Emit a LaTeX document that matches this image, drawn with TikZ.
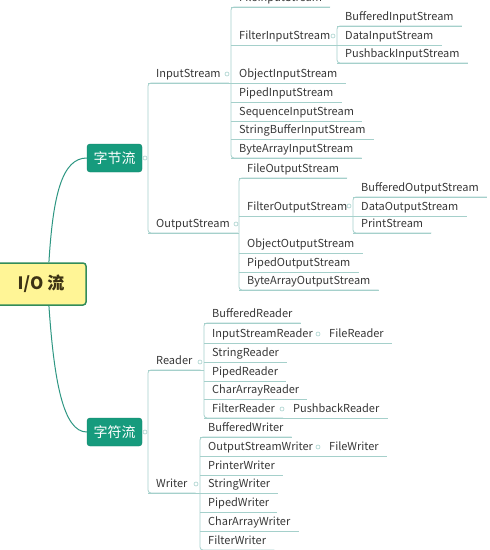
\documentclass[tikz,border=0pt]{standalone}
\usepackage{fontspec}
\setmainfont{Noto Sans CJK SC}
\usetikzlibrary{positioning}

\definecolor{rootfill}{RGB}{255,245,150}
\definecolor{rootedge}{RGB}{50,140,90}
\definecolor{roottext}{RGB}{60,50,20}
\definecolor{topicfill}{RGB}{22,155,125}
\definecolor{topicedge}{RGB}{15,130,105}
\definecolor{stemline}{RGB}{45,150,130}
\definecolor{branchline}{RGB}{165,208,203}
\definecolor{leaftext}{RGB}{55,55,55}

\begin{document}
\begin{tikzpicture}
    [
      x=1pt,y=-1pt,
      root/.style={draw=rootedge,fill=rootfill,line width=1.5pt,rounded corners=3pt,minimum width=90pt,minimum height=42pt,text=roottext,font=\bfseries\fontsize{17}{20}\selectfont},
      topic/.style={draw=topicedge,fill=topicfill,rounded corners=3pt,minimum width=55pt,minimum height=28pt,text=white,font=\fontsize{14}{16}\selectfont},
      leaf/.style={anchor=south west,inner xsep=8pt,inner ysep=2.5pt,text height=8pt,text depth=2.5pt,text=leaftext,font=\fontsize{11}{13}\selectfont},
      branch/.style={draw=branchline,line width=0.8pt},
      trunk/.style={branch,rounded corners=3pt},
      stem/.style={draw=stemline,line width=1pt},
      knob/.style={circle,draw=branchline,fill=white,inner sep=0pt,minimum size=4pt,line width=0.6pt},
    ]

    \useasboundingbox (0,0) rectangle (490,550);

    \node (io) [root] at (41,284) {I/O 流};
    \node (byte) [topic] at (114.5,158) {字节流};
    \node (char) [topic] at (114.5,432) {字符流};

    \draw [stem] (io.70) .. controls (53,195) and (62,158) .. (byte.west);
    \draw [stem] (io.290) .. controls (54,380) and (63,432) .. (char.west);

    \node (in) [leaf] at (148,83) {InputStream};
    \node (out) [leaf] at (148,233) {OutputStream};
    \node (rd) [leaf] at (148,370) {Reader};
    \node (wr) [leaf] at (148,493) {Writer};

    % byte streams
    \foreach \n/\t/\y in {fis/FileInputStream/7, fltis/FilterInputStream/45, ois/ObjectInputStream/83,
      pis/PipedInputStream/102, sis/SequenceInputStream/121, sbis/StringBufferInputStream/139,
      bais/ByteArrayInputStream/158}
      \node (\n) [leaf] at (231,\y) {\t};
    \foreach \n/\t/\y in {bfis/BufferedInputStream/26, dis/DataInputStream/45, pbis/PushbackInputStream/63}
      \node (\n) [leaf] at (337,\y) {\t};
    \foreach \n/\t/\y in {fos/FileOutputStream/178, fltos/FilterOutputStream/216, oos/ObjectOutputStream/253,
      pos/PipedOutputStream/272, baos/ByteArrayOutputStream/290}
      \node (\n) [leaf] at (239,\y) {\t};
    \foreach \n/\t/\y in {bos/BufferedOutputStream/197, dos/DataOutputStream/216, ps/PrintStream/233}
      \node (\n) [leaf] at (353,\y) {\t};

    % char streams
    \foreach \n/\t/\y in {br/BufferedReader/323, isr/InputStreamReader/343, sr/StringReader/362,
      pr/PipedReader/381, car/CharArrayReader/399, fr/FilterReader/418}
      \node (\n) [leaf] at (204,\y) {\t};
    \node (filer) [leaf] at (321,343) {FileReader};
    \node (pbr) [leaf] at (285,418) {PushbackReader};
    \foreach \n/\t/\y in {bw/BufferedWriter/437, osw/OutputStreamWriter/456, pw/PrinterWriter/475,
      sw/StringWriter/493, pdw/PipedWriter/512, caw/CharArrayWriter/531, fw/FilterWriter/550}
      \node (\n) [leaf] at (200,\y) {\t};
    \node (filew) [leaf] at (321,456) {FileWriter};

    \foreach \n in {fis,ois,pis,sis,sbis,bais,bfis,dis,pbis,fos,oos,pos,baos,bos,dos,ps,
      br,sr,pr,car,filer,pbr,bw,pw,sw,pdw,caw,fw,filew}
      \draw [branch] (\n.south west) -- (\n.south east);
    \foreach \n/\c in {in/fis, out/fos, fltis/bfis, fltos/bos, rd/br, wr/bw, isr/filer, fr/pbr, osw/filew}
      \draw [branch] (\n.south west) -- (\n.south west -| \c.south west);
    \foreach \a/\b in {in/out, rd/wr, fis/bais, bfis/pbis, fos/baos, bos/ps, br/fr, bw/fw}
      \draw [trunk] (\a.south east) -- (\a.south west) -- (\b.south west) -- (\b.south east);

    \foreach \n/\x/\y in {kbyte/145/158, kchar/145/432, kin/227/74, kout/236/224, kfltis/333/36,
      kfltos/349/206, krd/200/362, kwr/196/484, kisr/318/334, kfr/282/409, kosw/318/447}
      \node (\n) [knob] at (\x,\y) {};

  \end{tikzpicture}
\end{document}
